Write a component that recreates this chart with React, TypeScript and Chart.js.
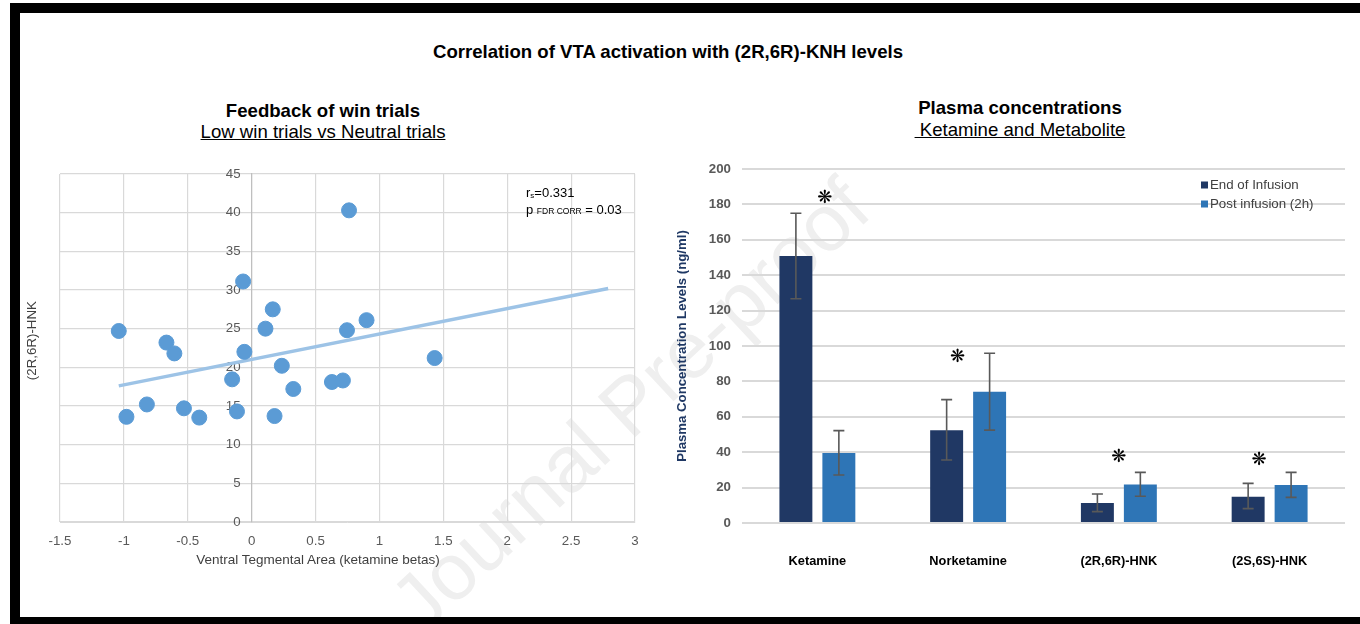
import React, { useEffect, useRef } from "react";
import { Chart, registerables } from "chart.js";

Chart.register(...registerables);

const FONT = "'Liberation Sans', Arial, sans-serif";

// ---- Left panel: scatter of VTA ketamine betas vs (2R,6R)-HNK ----
const vtaBetas = [-1.04, -0.98, -0.82, -0.667, -0.605, -0.53, -0.41, -0.153, -0.115, -0.067, -0.057, 0.108, 0.165, 0.179, 0.236, 0.326, 0.628, 0.714, 0.746, 0.762, 0.899, 1.432];
const hnkLevels = [24.7, 13.6, 15.2, 23.2, 21.8, 14.7, 13.5, 18.45, 14.3, 31.1, 22.0, 25.0, 27.5, 13.7, 20.2, 17.2, 18.1, 18.3, 24.8, 40.3, 26.1, 21.2];
const trendX = [-1.04, 2.79];
const trendY = [17.6, 30.2];
const betaTicksMin = -1.5;
const betaTicksMax = 3;
const hnkTicksMax = 45;

// ---- Right panel: plasma concentrations ----
const compounds = ["Ketamine", "Norketamine", "(2R,6R)-HNK", "(2S,6S)-HNK"];
const endOfInfusion = [150.8, 52.4, 11.3, 14.9];
const endLow = [126.7, 35.6, 6.4, 8.1];
const endHigh = [175, 69.7, 16.4, 22.4];
const postInfusion = [39.5, 74.2, 21.8, 21.5];
const postLow = [27.1, 52.5, 15.1, 14.5];
const postHigh = [52.2, 95.9, 28.6, 28.6];
const starLevels = [183.6, 93.8, 37.3, 35.6];
const starShift = [0.05, -0.07, 0, -0.07];
const seriesNames = ["End of Infusion", "Post infusion (2h)"];

const statsLabel = {
  id: "statsLabel",
  afterDatasetsDraw(chart: any) {
    const { ctx, chartArea } = chart;
    const x = chartArea.right - 109;
    const y1 = chartArea.top + 23;
    const y2 = chartArea.top + 40;
    ctx.save();
    ctx.fillStyle = "#000";
    ctx.textAlign = "left";
    ctx.textBaseline = "alphabetic";
    let w = 0;
    ctx.font = `13px ${FONT}`;
    ctx.fillText("r", x, y1);
    w += ctx.measureText("r").width;
    ctx.font = `8px ${FONT}`;
    ctx.fillText("s", x + w, y1 + 1);
    w += ctx.measureText("s").width;
    ctx.font = `13px ${FONT}`;
    ctx.fillText("=0.331", x + w, y1);
    w = 0;
    ctx.font = `13px ${FONT}`;
    ctx.fillText("p", x, y2);
    w += ctx.measureText("p ").width;
    ctx.font = `8.5px ${FONT}`;
    ctx.fillText("FDR CORR", x + w, y2);
    w += ctx.measureText("FDR CORR").width;
    ctx.font = `13px ${FONT}`;
    ctx.fillText(" = 0.03", x + w, y2);
    ctx.restore();
  },
};

const errorBars = {
  id: "errorBars",
  afterDatasetsDraw(chart: any) {
    const { ctx } = chart;
    const y = chart.scales.y;
    ctx.save();
    ctx.strokeStyle = "#595959";
    ctx.lineWidth = 1.6;
    chart.data.datasets.forEach((ds: any, di: number) => {
      const meta = chart.getDatasetMeta(di);
      meta.data.forEach((bar: any, i: number) => {
        const x = bar.x;
        const yl = y.getPixelForValue(ds.errLow[i]);
        const yh = y.getPixelForValue(ds.errHigh[i]);
        ctx.beginPath();
        ctx.moveTo(x, yl);
        ctx.lineTo(x, yh);
        ctx.moveTo(x - 5.5, yh);
        ctx.lineTo(x + 5.5, yh);
        ctx.moveTo(x - 5.5, yl);
        ctx.lineTo(x + 5.5, yl);
        ctx.stroke();
      });
    });
    ctx.restore();
  },
};

const stars = {
  id: "stars",
  afterDatasetsDraw(chart: any) {
    const { ctx } = chart;
    const x = chart.scales.x;
    const y = chart.scales.y;
    const step = x.getPixelForValue(1) - x.getPixelForValue(0);
    ctx.save();
    ctx.fillStyle = "#000";
    ctx.font = `bold 18px 'DejaVu Sans'`;
    ctx.textAlign = "center";
    ctx.textBaseline = "middle";
    starLevels.forEach((v, i) => {
      ctx.fillText("\u274B", x.getPixelForValue(i) + starShift[i] * step, y.getPixelForValue(v));
    });
    ctx.restore();
  },
};

const legendBox = {
  id: "legendBox",
  afterDraw(chart: any) {
    const { ctx, chartArea } = chart;
    const x0 = chartArea.right - 144;
    const y0 = chartArea.top + 16;
    ctx.save();
    ctx.textAlign = "left";
    ctx.textBaseline = "middle";
    ctx.font = `13.3px ${FONT}`;
    chart.data.datasets.forEach((ds: any, i: number) => {
      const cy = y0 + i * 19;
      ctx.fillStyle = ds.backgroundColor;
      ctx.fillRect(x0, cy - 3.5, 7, 7);
      ctx.fillStyle = "#404040";
      ctx.fillText(ds.label, x0 + 9, cy);
    });
    ctx.restore();
  },
};

export default function App() {
  const leftRef = useRef<HTMLCanvasElement>(null);
  const rightRef = useRef<HTMLCanvasElement>(null);

  useEffect(() => {
    document.body.style.margin = "0";
    const left = new Chart(leftRef.current as HTMLCanvasElement, {
      type: "scatter",
      data: {
        datasets: [
          {
            type: "scatter",
            label: "VTA",
            data: vtaBetas.map((x, i) => ({ x, y: hnkLevels[i] })),
            backgroundColor: "#5B9BD5",
            borderColor: "#5B9BD5",
            pointRadius: 7.5,
            pointHoverRadius: 7.5,
            yAxisID: "y",
            order: 0,
          },
          {
            type: "line",
            label: "trend",
            data: trendX.map((x, i) => ({ x, y: trendY[i] })),
            borderColor: "#9DC3E6",
            borderWidth: 3.5,
            pointRadius: 0,
            fill: false,
            yAxisID: "y",
            order: 1,
          },
        ] as any,
      },
      options: {
        responsive: false,
        animation: false,
        layout: { padding: { left: 0, right: 25, top: 24, bottom: 0 } },
        plugins: { legend: { display: false }, tooltip: { enabled: false } },
        scales: {
          x: {
            type: "linear",
            min: betaTicksMin,
            max: betaTicksMax,
            position: "bottom",
            ticks: { stepSize: 0.5, callback: (v: any) => String(v), color: "#595959", font: { family: FONT, size: 13.3 }, padding: 11 },
            grid: { color: "#d9d9d9", lineWidth: 1.2, drawTicks: false },
            border: { color: "#d9d9d9" },
            afterFit: (s: any) => { s.height = 50; },
          },
          y: {
            type: "linear",
            min: 0,
            max: hnkTicksMax,
            position: { x: 0 },
            ticks: { stepSize: 5, color: "#595959", font: { family: FONT, size: 13.3 }, callback: (v: any) => String(v) + "   " },
            grid: { color: "#d9d9d9", lineWidth: 1.2, drawTicks: false },
            border: { color: "#bfbfbf", width: 1.2 },
          },
          yTitle: {
            type: "linear",
            position: "left",
            ticks: { display: false },
            grid: { display: false, drawTicks: false },
            border: { display: false },
            title: { display: true, text: "    (2R,6R)-HNK", color: "#404040", font: { family: FONT, size: 13.3 } },
            afterFit: (s: any) => { s.width = 40; },
          },
        } as any,
      },
      plugins: [statsLabel],
    });

    const right = new Chart(rightRef.current as HTMLCanvasElement, {
      type: "bar",
      data: {
        labels: compounds,
        datasets: [
          {
            label: seriesNames[0],
            data: endOfInfusion,
            backgroundColor: "#203864",
            categoryPercentage: 0.57,
            barPercentage: 0.767,
            errLow: endLow,
            errHigh: endHigh,
          },
          {
            label: seriesNames[1],
            data: postInfusion,
            backgroundColor: "#2E75B6",
            categoryPercentage: 0.57,
            barPercentage: 0.767,
            errLow: postLow,
            errHigh: postHigh,
          },
        ] as any,
      },
      options: {
        responsive: false,
        animation: false,
        layout: { padding: { left: 10, right: 15, top: 19, bottom: 0 } },
        plugins: { legend: { display: false }, tooltip: { enabled: false } },
        scales: {
          x: {
            grid: { display: false, drawTicks: false },
            border: { display: false },
            ticks: { color: "#000", font: { family: FONT, size: 12.8, weight: "bold" }, padding: 31 },
            afterFit: (s: any) => { s.height = 57; },
          },
          y: {
            min: 0,
            max: 200,
            ticks: { stepSize: 20, color: "#595959", font: { family: FONT, size: 13.3, weight: "bold" }, padding: 11 },
            grid: { color: "#d9d9d9", lineWidth: 2, drawTicks: false },
            border: { display: false },
            title: { display: true, text: "Plasma Concentration Levels (ng/ml)", color: "#1F3864", font: { family: FONT, size: 13.2, weight: "bold" } },
            afterFit: (s: any) => { s.width = 72; },
          },
        } as any,
      },
      plugins: [errorBars, stars, legendBox],
    });

    return () => {
      left.destroy();
      right.destroy();
    };
  }, []);

  const abs = (o: any) => ({ position: "absolute", ...o } as React.CSSProperties);

  return (
    <div style={{ position: "relative", width: 1360, height: 624, background: "#fff", overflow: "hidden", fontFamily: FONT }}>
      <div
        style={abs({
          left: 280, top: 355, width: 700, height: 100, lineHeight: "100px", textAlign: "center",
          fontSize: 80, color: "#efefef", whiteSpace: "nowrap", transform: "rotate(-43deg)", transformOrigin: "50% 50%",
        })}
      >
        Journal Pre-proof
      </div>
      <div style={abs({ left: 10, top: 3, width: 1350, height: 10, background: "#000" })} />
      <div style={abs({ left: 10, top: 3, width: 10, height: 621, background: "#000" })} />
      <div style={abs({ left: 10, top: 617, width: 1350, height: 7, background: "#000" })} />

      <div style={abs({ left: 0, top: 41, width: 1336, lineHeight: "22px", textAlign: "center", fontSize: 18.6, fontWeight: "bold", color: "#000" })}>
        Correlation of VTA activation with (2R,6R)-KNH levels
      </div>

      <div style={abs({ left: 123, top: 100, width: 400, lineHeight: "22px", textAlign: "center", fontSize: 18.6, fontWeight: "bold", color: "#000" })}>
        Feedback of win trials
      </div>
      <div style={abs({ left: 123, top: 121, width: 400, lineHeight: "22px", textAlign: "center", fontSize: 18.6, color: "#000" })}>
        <span style={{ textDecoration: "underline" }}>Low win trials vs Neutral trials</span>
      </div>

      <div style={abs({ left: 820, top: 97, width: 400, lineHeight: "22px", textAlign: "center", fontSize: 18.6, fontWeight: "bold", color: "#000" })}>
        Plasma concentrations
      </div>
      <div style={abs({ left: 820, top: 119, width: 400, lineHeight: "22px", textAlign: "center", fontSize: 18.6, color: "#000" })}>
        <span style={{ textDecoration: "underline" }}>{"\u00A0Ketamine and Metabolite"}</span>
      </div>

      <canvas ref={leftRef} width={640} height={422} style={abs({ left: 20, top: 150, width: 640, height: 422 })} />
      <div style={abs({ left: 118, top: 552, width: 400, lineHeight: "16px", textAlign: "center", fontSize: 13.5, color: "#404040" })}>
        Ventral Tegmental Area (ketamine betas)
      </div>

      <canvas ref={rightRef} width={700} height={430} style={abs({ left: 660, top: 150, width: 700, height: 430 })} />
    </div>
  );
}
